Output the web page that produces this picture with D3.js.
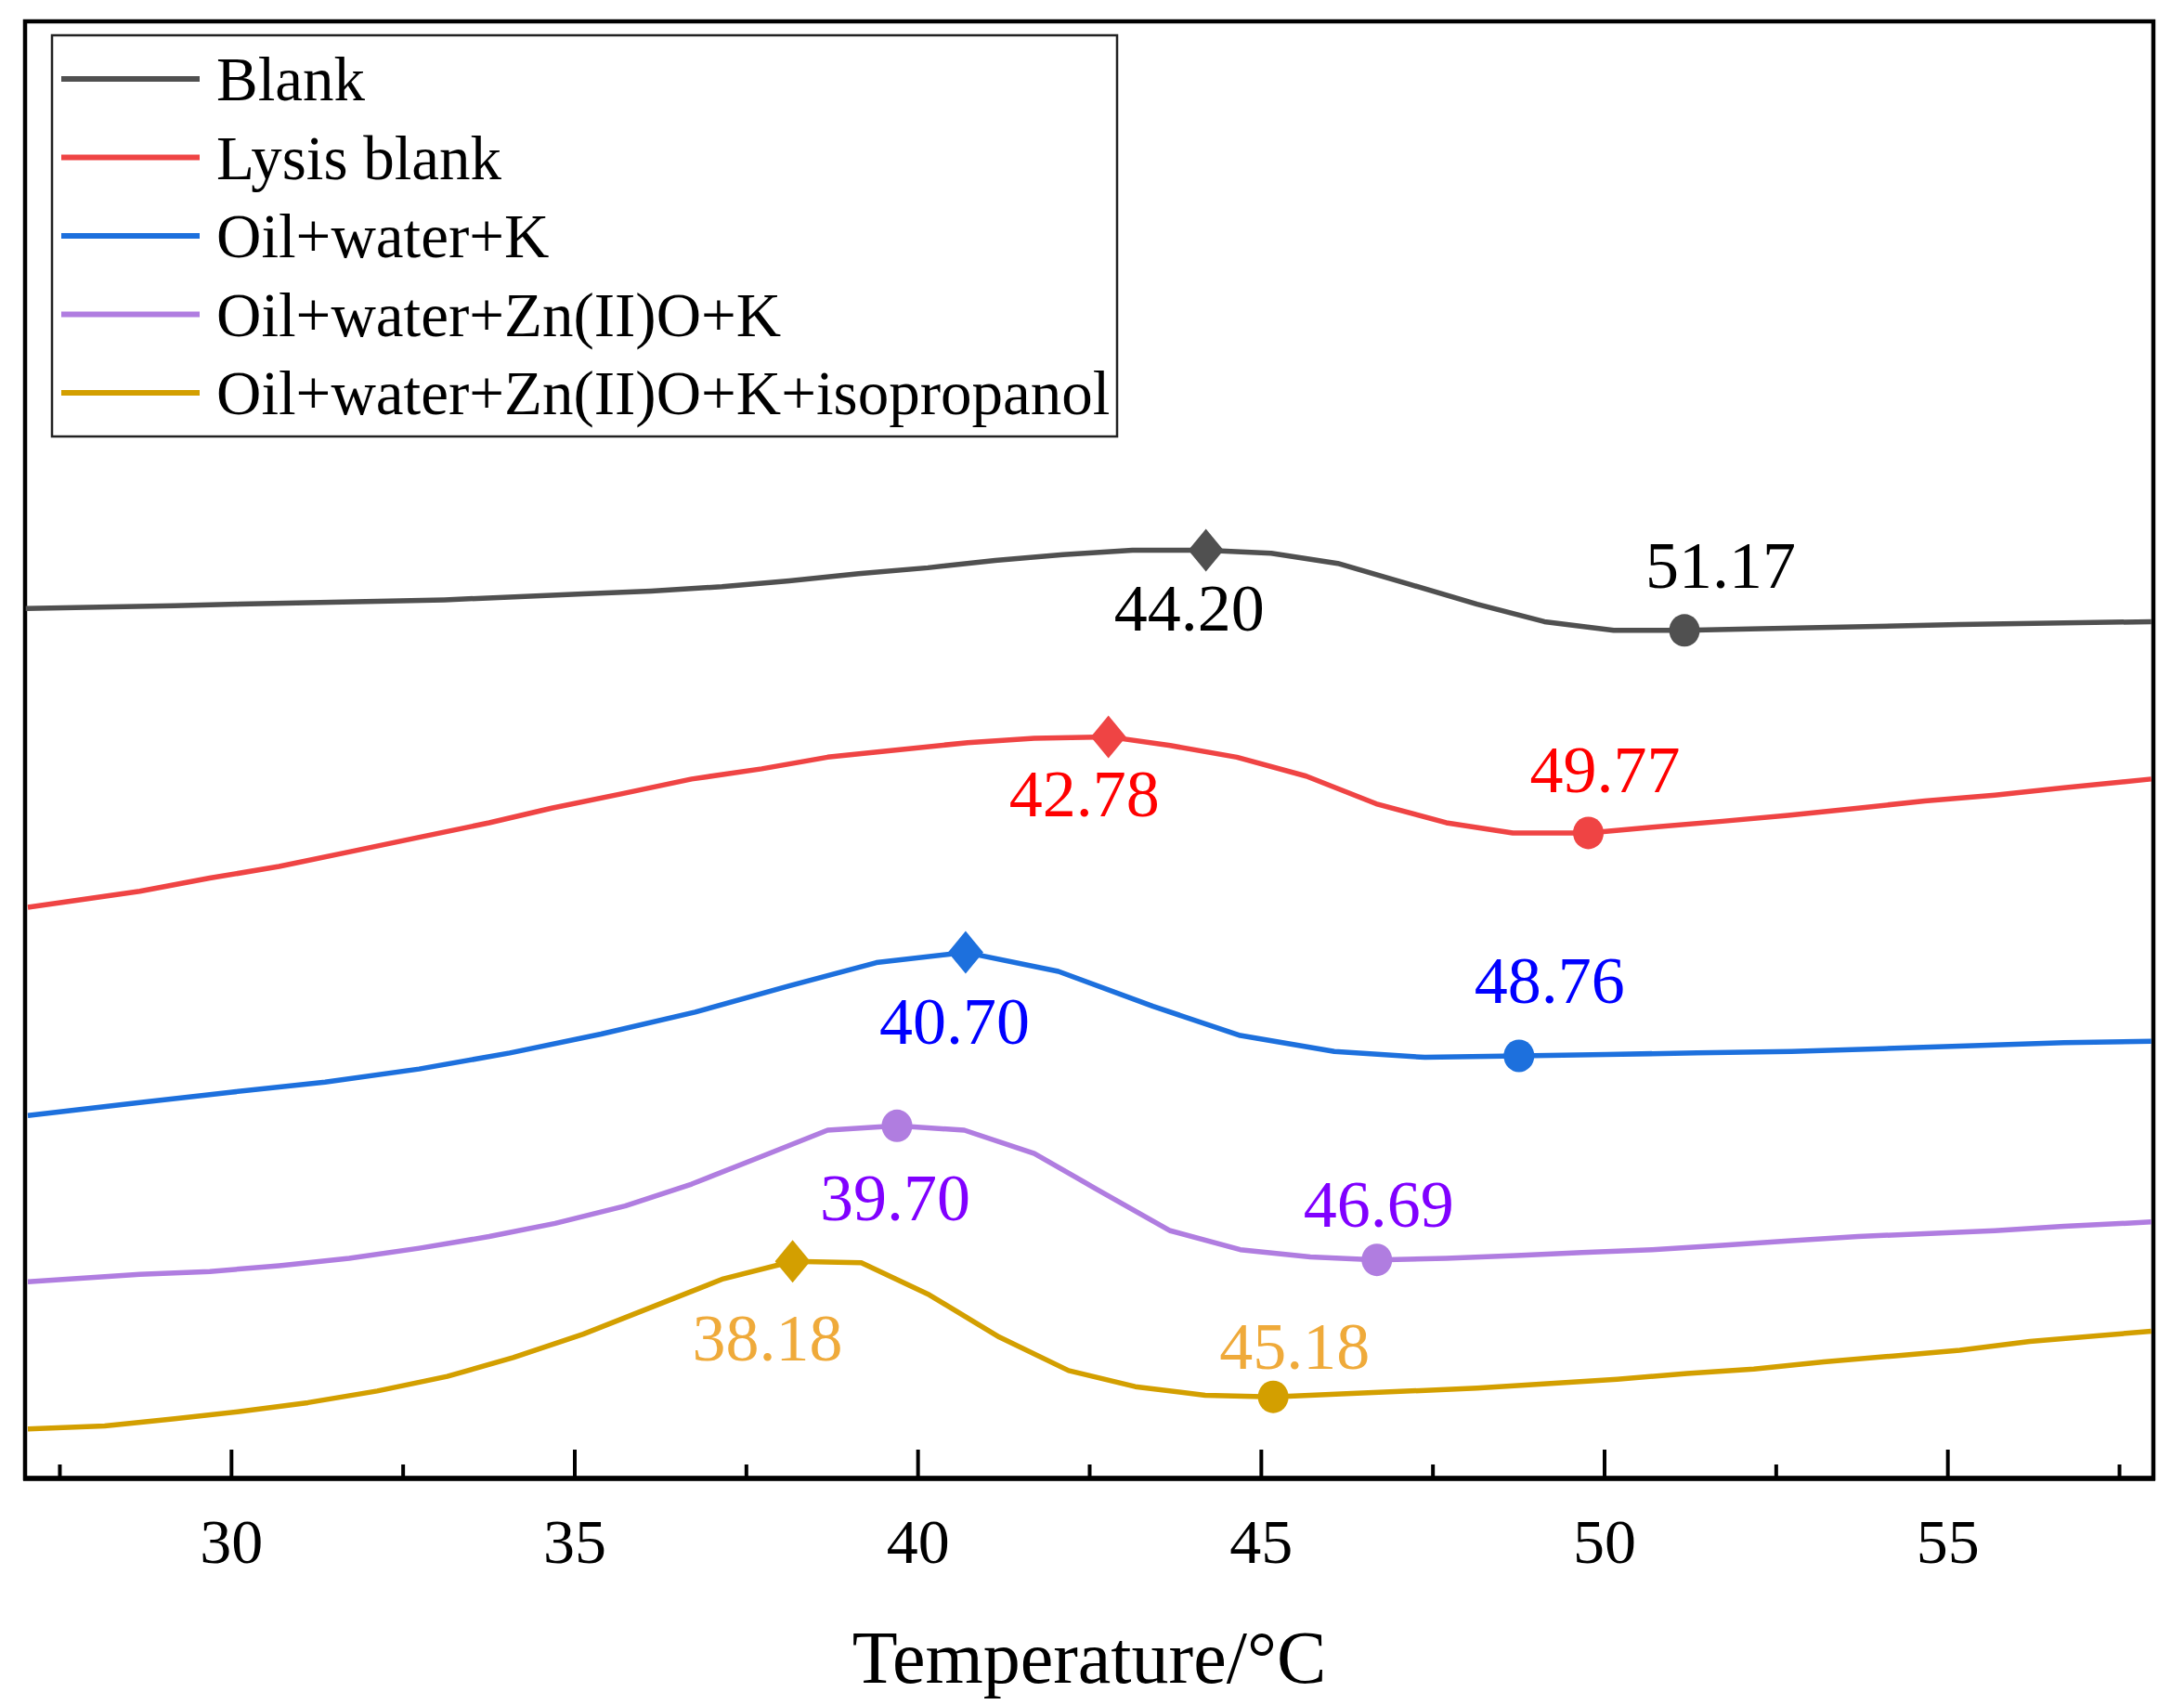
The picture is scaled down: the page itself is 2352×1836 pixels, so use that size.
<!DOCTYPE html>
<html>
<head>
<meta charset="utf-8">
<script src="https://cdn.jsdelivr.net/npm/d3@7"></script>
<style>
  html, body { margin: 0; padding: 0; background: #fff; }
  svg text { font-family: "Liberation Serif", "Times New Roman", serif; }
</style>
</head>
<body>
<div id="chart"></div>
<script>
// Curvas DSC (temperatura en C, flujo de calor en unidades arbitrarias, desplazadas)
const blank = [[27.01, 5.97], [29.18, 5.99], [30.11, 6.00], [31.13, 6.01], [32.13, 6.02], [33.11, 6.03],
  [34.13, 6.05], [35.13, 6.07], [36.12, 6.09], [37.15, 6.12], [38.13, 6.16], [39.14, 6.21], [40.15, 6.25],
  [41.13, 6.30], [42.12, 6.34], [43.13, 6.37], [44.20, 6.37], [45.15, 6.35], [46.12, 6.28], [47.14, 6.14],
  [48.15, 6.00], [49.13, 5.88], [50.14, 5.82], [51.17, 5.82], [52.13, 5.83], [55.17, 5.86], [57.97, 5.88]];
const lysis = [[27.04, 3.92], [28.67, 4.03], [29.69, 4.12], [30.70, 4.20], [31.72, 4.30], [32.74, 4.40],
  [33.76, 4.50], [34.67, 4.60], [35.70, 4.70], [36.71, 4.80], [37.73, 4.87], [38.69, 4.95], [39.71, 5.00],
  [40.73, 5.05], [41.70, 5.08], [42.78, 5.09], [43.68, 5.03], [44.65, 4.95], [45.66, 4.82], [46.68, 4.63],
  [47.70, 4.50], [48.67, 4.43], [49.77, 4.43], [50.70, 4.47], [51.72, 4.51], [52.68, 4.55], [53.70, 4.60],
  [54.67, 4.65], [55.69, 4.69], [56.70, 4.74], [57.97, 4.80]];
const oilK = [[27.04, 2.49], [28.67, 2.58], [29.99, 2.65], [31.37, 2.72], [32.74, 2.81], [34.06, 2.92],
  [35.39, 3.05], [36.76, 3.20], [38.13, 3.38], [39.40, 3.54], [40.70, 3.61], [42.05, 3.48], [43.43, 3.24],
  [44.70, 3.04], [46.07, 2.93], [47.39, 2.89], [48.76, 2.90], [50.04, 2.91], [51.36, 2.92], [52.73, 2.93],
  [54.06, 2.95], [55.38, 2.97], [56.70, 2.99], [57.97, 3.00]];
const oilZnK = [[27.04, 1.35], [28.67, 1.40], [29.69, 1.42], [30.70, 1.46], [31.72, 1.51], [32.74, 1.58],
  [33.76, 1.66], [34.72, 1.75], [35.74, 1.87], [36.71, 2.02], [37.73, 2.21], [38.69, 2.39], [39.70, 2.42],
  [40.68, 2.39], [41.70, 2.23], [42.59, 1.99], [43.68, 1.70], [44.70, 1.57], [45.72, 1.52], [46.69, 1.50],
  [47.70, 1.51], [48.72, 1.53], [49.68, 1.55], [50.70, 1.57], [51.72, 1.60], [52.68, 1.63], [53.70, 1.66],
  [54.67, 1.68], [55.69, 1.70], [56.70, 1.73], [57.97, 1.76]];
const oilZnKIso = [[27.04, 0.34], [28.16, 0.36], [29.18, 0.41], [30.15, 0.46], [31.12, 0.52], [32.13, 0.60],
  [33.15, 0.70], [34.11, 0.83], [35.13, 0.99], [36.15, 1.18], [37.17, 1.37], [38.18, 1.49], [39.18, 1.48],
  [40.17, 1.26], [41.19, 0.97], [42.20, 0.74], [43.17, 0.63], [44.19, 0.57], [45.18, 0.56], [46.17, 0.58],
  [47.19, 0.60], [48.15, 0.62], [49.17, 0.65], [50.19, 0.68], [51.21, 0.72], [52.18, 0.75], [53.20, 0.80],
  [54.21, 0.84], [55.18, 0.88], [56.20, 0.94], [57.21, 0.98], [57.97, 1.01]];

const seriesNames = ["Blank", "Lysis blank", "Oil+water+K", "Oil+water+Zn(II)O+K", "Oil+water+Zn(II)O+K+isopropanol"];
const seriesData = [blank, lysis, oilK, oilZnK, oilZnKIso];

// Picos marcados: [temperatura, valor, tipo de marcador]
const peaks = [
  [[44.20, 6.37, "diamond"], [51.17, 5.82, "circle"]],
  [[42.78, 5.09, "diamond"], [49.77, 4.43, "circle"]],
  [[40.70, 3.61, "diamond"], [48.76, 2.90, "circle"]],
  [[39.70, 2.42, "circle"], [46.69, 1.50, "circle"]],
  [[38.18, 1.49, "diamond"], [45.18, 0.56, "circle"]]
];

const xMajorTicks = [30, 35, 40, 45, 50, 55];
const xMinorTicks = [27.5, 32.5, 37.5, 42.5, 47.5, 52.5, 57.5];

// colores de lineas y etiquetas
const lineColors = ["#505050", "#ef4444", "#1d70dd", "#b07de0", "#d39f00"];
const labelColors = ["#000000", "#ff0000", "#0000ff", "#8000ff", "#efaa3a"];
// desplazamiento de cada etiqueta respecto a su marcador (px)
const labelOffsets = [
  [[-18, 86], [39, -46]],
  [[-26, 86], [18, -44]],
  [[-12, 98], [33, -57]],
  [[-2, 102], [2, -36]],
  [[-27, 107], [23, -30]]
];

const W = 2352, H = 1836;
const plot = { left: 27, right: 2319, top: 23, bottom: 1592 };

const svg = d3.select("#chart").append("svg")
  .attr("width", W)
  .attr("height", H);

const x = d3.scaleLinear().domain([27, 58]).range([plot.left, plot.right]);
const y = d3.scaleLinear().domain([0, 10]).range([plot.bottom, plot.top]);

// Ticks inferiores hacia dentro
const axisG = svg.append("g").attr("transform", `translate(0, ${plot.bottom})`);
axisG.call(d3.axisBottom(x).tickValues(xMajorTicks).tickSize(-31).tickPadding(0).tickFormat(d3.format("d")));
axisG.select(".domain").remove();
axisG.selectAll(".tick line").attr("stroke", "#000").attr("stroke-width", 4);
axisG.selectAll(".tick text")
  .attr("y", 91)
  .attr("dy", 0)
  .attr("fill", "#000")
  .style("font-size", "68px");

const minorG = svg.append("g").attr("transform", `translate(0, ${plot.bottom})`);
minorG.call(d3.axisBottom(x).tickValues(xMinorTicks).tickSize(-15).tickFormat(""));
minorG.select(".domain").remove();
minorG.selectAll(".tick line").attr("stroke", "#000").attr("stroke-width", 4);

// Marco del grafico
svg.append("rect")
  .attr("x", plot.left)
  .attr("y", plot.top)
  .attr("width", plot.right - plot.left)
  .attr("height", plot.bottom - plot.top)
  .attr("fill", "none")
  .attr("stroke", "#000")
  .attr("stroke-width", 4.5);
svg.append("line")
  .attr("x1", plot.left - 2).attr("x2", plot.right + 2)
  .attr("y1", plot.bottom).attr("y2", plot.bottom)
  .attr("stroke", "#000").attr("stroke-width", 5.5);

// Titulo eje X
svg.append("text")
  .attr("x", (plot.left + plot.right) / 2)
  .attr("y", 1812)
  .attr("text-anchor", "middle")
  .style("font-size", "80px")
  .text("Temperature/°C");

// Curvas
const line = d3.line()
  .x(d => x(d[0]))
  .y(d => y(d[1]));

svg.selectAll(".curve")
  .data(seriesData)
  .join("path")
  .attr("class", "curve")
  .attr("d", line)
  .attr("fill", "none")
  .attr("stroke", (d, i) => lineColors[i])
  .attr("stroke-width", 5.5)
  .attr("stroke-linejoin", "round");

// Marcadores y etiquetas
const diamond = "M0,-23 L19,0 L0,23 L-19,0 Z";
peaks.forEach((pair, i) => {
  pair.forEach((p, j) => {
    const px = x(p[0]), py = y(p[1]);
    if (p[2] === "diamond") {
      svg.append("path")
        .attr("d", diamond)
        .attr("transform", `translate(${px}, ${py})`)
        .attr("fill", lineColors[i]);
    } else {
      svg.append("ellipse")
        .attr("cx", px).attr("cy", py)
        .attr("rx", 16.5).attr("ry", 17.5)
        .attr("fill", lineColors[i]);
    }
    svg.append("text")
      .attr("x", px + labelOffsets[i][j][0])
      .attr("y", py + labelOffsets[i][j][1])
      .attr("text-anchor", "middle")
      .attr("fill", labelColors[i])
      .style("font-size", "72px")
      .text(p[0].toFixed(2));
  });
});

// Leyenda
const legend = svg.append("g");
legend.append("rect")
  .attr("x", 56).attr("y", 38)
  .attr("width", 1147).attr("height", 432)
  .attr("fill", "#fff")
  .attr("stroke", "#222")
  .attr("stroke-width", 2.5);

const rowY = d3.scalePoint().domain(seriesNames).range([85, 423]);
seriesNames.forEach((name, i) => {
  legend.append("line")
    .attr("x1", 66).attr("x2", 215)
    .attr("y1", rowY(name)).attr("y2", rowY(name))
    .attr("stroke", lineColors[i])
    .attr("stroke-width", 6);
  legend.append("text")
    .attr("x", 233)
    .attr("y", rowY(name) + 23)
    .style("font-size", "67px")
    .text(name);
});
</script>
</body>
</html>
